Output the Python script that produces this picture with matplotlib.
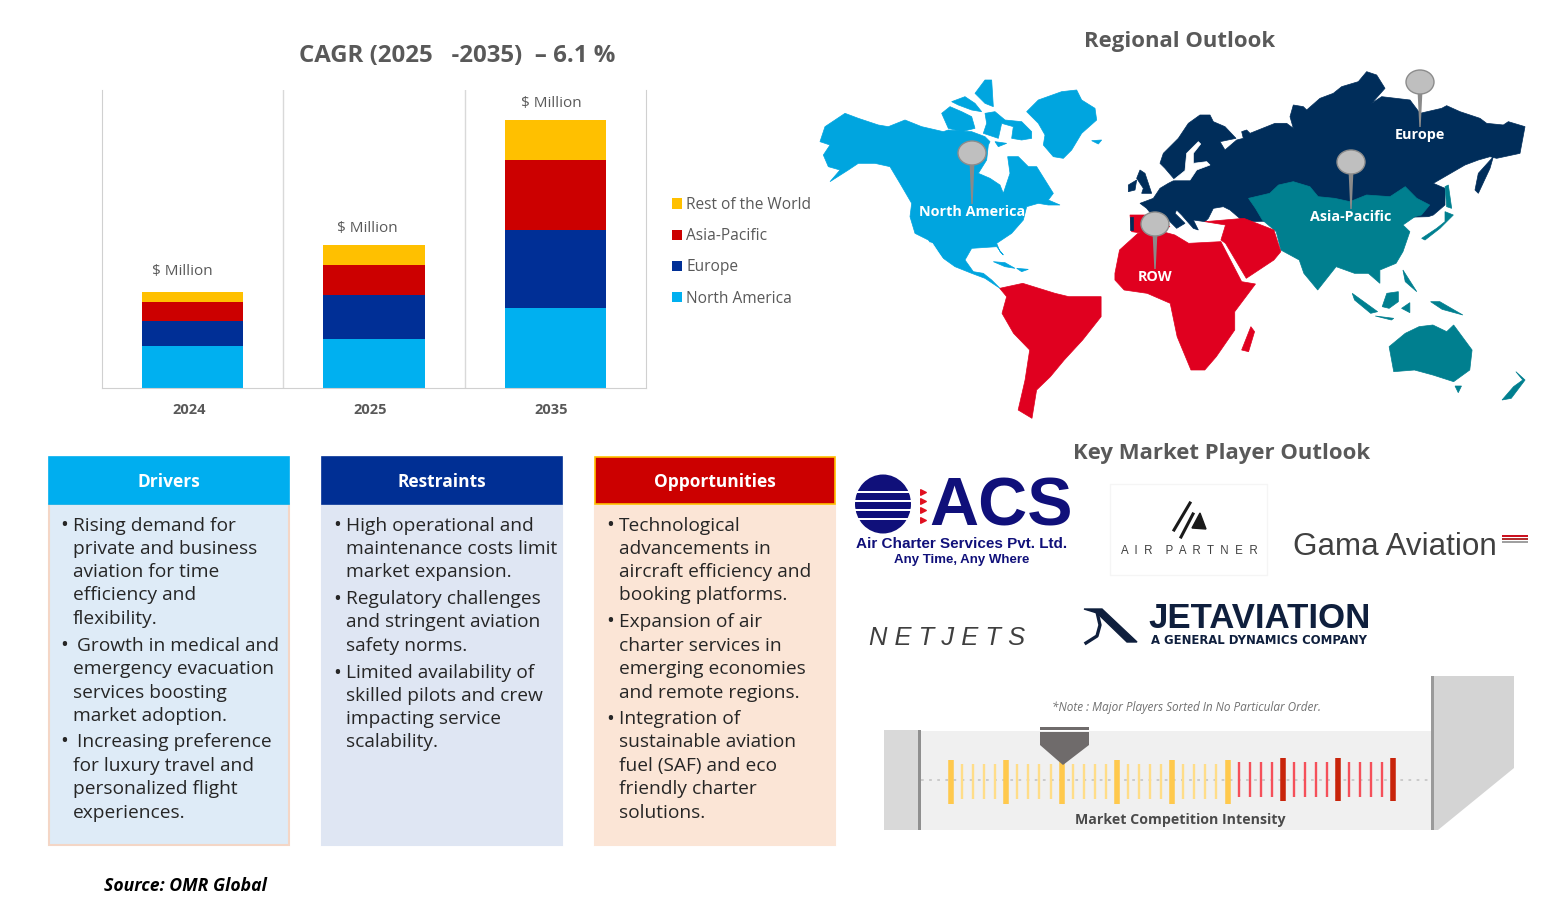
import matplotlib
matplotlib.use("Agg")
import matplotlib.pyplot as plt
from matplotlib.patches import Polygon, Rectangle, Ellipse
from matplotlib.transforms import ScaledTranslation

plt.rcParams['font.family'] = ['Open Sans', 'DejaVu Sans']

W, H = 1563, 908

# chart data (no scale on the original, values are read as bar heights)
years = ['2024', '2025', '2035']
north_america = [42, 49, 80]
europe = [25, 44, 78]
asia_pacific = [19, 30, 70]
rest_of_world = [10, 20, 40]
series_names = ['North America', 'Europe', 'Asia-Pacific', 'Rest of the World']
series_colors = ['#00B0F0', '#002F96', '#CC0000', '#FFC000']
total_label = '$ Million'

drivers = [(525, 1, 0, 'Rising demand for'), (548, 0, 0, 'private and business'), (571, 0, 0, 'aviation for time'),
           (594, 0, 0, 'efficiency and'), (618, 0, 0, 'flexibility.'), (645, 1, 4, 'Growth in medical and'),
           (668, 0, 0, 'emergency evacuation'), (692, 0, 0, 'services boosting'), (715, 0, 0, 'market adoption.'),
           (741, 1, 4, 'Increasing preference'), (765, 0, 0, 'for luxury travel and'),
           (788, 0, 0, 'personalized flight'), (812, 0, 0, 'experiences.')]
restraints = [(525, 1, 0, 'High operational and'), (548, 0, 0, 'maintenance costs limit'), (571, 0, 0, 'market expansion.'),
              (598, 1, 0, 'Regulatory challenges'), (621, 0, 0, 'and stringent aviation'), (645, 0, 0, 'safety norms.'),
              (672, 1, 0, 'Limited availability of'), (695, 0, 0, 'skilled pilots and crew'),
              (718, 0, 0, 'impacting service'), (741, 0, 0, 'scalability.')]
opportunities = [(525, 1, 0, 'Technological'), (548, 0, 0, 'advancements in'), (571, 0, 0, 'aircraft efficiency and'),
                 (594, 0, 0, 'booking platforms.'), (621, 1, 0, 'Expansion of air'), (645, 0, 0, 'charter services in'),
                 (668, 0, 0, 'emerging economies'), (692, 0, 0, 'and remote regions.'), (718, 1, 0, 'Integration of'),
                 (741, 0, 0, 'sustainable aviation'), (765, 0, 0, 'fuel (SAF) and eco'),
                 (788, 0, 0, 'friendly charter'), (812, 0, 0, 'solutions.')]

NA_BLUE = '#00A5DF'
NAVY = '#002D5A'
TEAL = '#007F8F'
RED = '#E0001F'
crops = {'world': (820, 60, 2.17, 3.0), 'na': (815, 70, 3.0, 3.0), 'eu': (1110, 100, 3.0, 3.0), 'ru': (1270, 65, 3.0, 3.0)}


def conv(crop, points):
    left, top, sx, sy = crops[crop]
    return [(left + a / sx, top + b / sy) for a, b in points]


navy_main = (conv('eu', [(90, 310), (130, 295), (150, 265), (175, 250), (195, 240), (165, 205), (150, 190), (160, 160),
                         (205, 115), (235, 70), (270, 45), (300, 45), (310, 65), (345, 80), (378, 115), (330, 125),
                         (345, 150), (380, 120), (400, 115), (395, 95), (410, 90), (420, 100), (495, 70), (530, 70),
                         (550, 85), (540, 50), (550, 15)])
             + conv('ru', [(100, 125), (110, 135), (150, 100), (190, 85), (215, 65), (265, 50), (290, 20), (320, 30),
                           (345, 70), (305, 115), (335, 95), (420, 105), (450, 145), (515, 130), (530, 122), (570, 140),
                           (630, 160), (650, 175), (700, 180), (715, 170), (765, 185), (750, 265), (680, 280),
                           (660, 275), (625, 285), (585, 300), (490, 355), (525, 370), (525, 420), (490, 450), (475, 455)])
             + conv('eu', [(415, 365), (395, 360), (360, 330), (340, 320), (310, 325), (295, 355), (285, 365), (250, 360),
                           (265, 390), (250, 385), (215, 345), (200, 330), (195, 340), (225, 370), (200, 385), (180, 365),
                           (165, 350), (130, 350), (110, 325)]))

map_shapes = [
    (NA_BLUE, conv('na', [(15, 215), (30, 170), (90, 130), (130, 145), (190, 165), (220, 170), (270, 150), (320, 170),
                          (385, 185), (400, 180), (470, 185), (510, 200), (525, 215), (520, 225), (515, 270), (490, 310),
                          (525, 325), (555, 345), (565, 370), (575, 340), (585, 310), (578, 260), (610, 260), (640, 290),
                          (665, 290), (690, 330), (715, 370), (700, 390), (735, 405), (700, 405), (670, 400), (635, 410),
                          (625, 450), (590, 490), (545, 520), (555, 545), (565, 555), (545, 530), (470, 535), (450, 570),
                          (475, 605), (505, 610), (530, 630), (555, 655), (510, 625), (470, 610), (420, 590), (385, 565),
                          (340, 510), (300, 490), (285, 440), (290, 400), (255, 340), (225, 290), (180, 280), (130, 280),
                          (100, 300), (45, 335), (75, 300), (40, 290), (25, 255), (45, 225)])),
    (NA_BLUE, conv('na', [(380, 130), (405, 110), (440, 125), (470, 140), (480, 175), (440, 185), (400, 175)])),
    (NA_BLUE, conv('na', [(410, 95), (450, 80), (480, 100), (500, 125), (470, 120), (430, 105)])),
    (NA_BLUE, conv('na', [(480, 70), (510, 30), (530, 30), (535, 110), (510, 100)])),
    (NA_BLUE, conv('na', [(510, 130), (540, 125), (570, 150), (620, 155), (650, 185), (650, 205), (620, 210), (590, 205),
                          (595, 170), (560, 160), (550, 205), (505, 190), (515, 160)])),
    (NA_BLUE, conv('na', [(540, 215), (575, 220), (550, 230)])),
    (NA_BLUE, conv('na', [(635, 125), (670, 90), (740, 65), (785, 60), (800, 90), (840, 115), (845, 150), (800, 190),
                          (770, 240), (745, 265), (715, 260), (685, 225), (690, 195), (670, 160)])),
    (NA_BLUE, conv('na', [(830, 212), (860, 210), (850, 222)])),
    (NA_BLUE, conv('na', [(535, 575), (570, 578), (600, 595), (570, 590)])),
    (NA_BLUE, conv('na', [(605, 595), (640, 598), (620, 605)])),
    ('white', conv('na', [(345, 518), (352, 520), (385, 570), (378, 572)])),
    (NAVY, navy_main),
    ('white', conv('eu', [(265, 125), (272, 132), (250, 160), (250, 190), (290, 185), (300, 195), (260, 210), (240, 240),
                          (190, 240), (225, 212), (230, 160)])),
    (NAVY, conv('eu', [(90, 210), (105, 220), (125, 280), (95, 280), (100, 265), (80, 235)])),
    (NAVY, conv('eu', [(55, 255), (80, 240), (75, 270), (55, 275)])),
    (NAVY, conv('ru', [(615, 375), (625, 385), (660, 310), (670, 275), (625, 325)])),
    (TEAL, conv('world', [(930, 415), (976, 400), (995, 375), (1027, 365), (1063, 380), (1081, 410), (1117, 415), (1150, 425),
                          (1186, 405), (1237, 410), (1270, 380), (1295, 415), (1323, 435), (1305, 465), (1291, 470),
                          (1265, 495), (1280, 515), (1265, 575), (1250, 610), (1215, 630), (1215, 670), (1190, 640),
                          (1160, 640), (1120, 620), (1080, 690), (1050, 640), (1040, 600), (1000, 570), (990, 515),
                          (960, 480), (945, 445)])),
    (TEAL, conv('ru', [(525, 365), (535, 360), (545, 430), (530, 425)])),
    (TEAL, conv('ru', [(525, 440), (550, 450), (510, 490), (465, 525), (455, 520), (500, 490), (525, 470)])),
    (TEAL, conv('world', [(1155, 700), (1210, 755), (1195, 760), (1160, 720)])),
    (TEAL, conv('world', [(1220, 740), (1230, 700), (1255, 695), (1255, 725), (1235, 745)])),
    (TEAL, conv('world', [(1265, 630), (1295, 695), (1270, 665)])),
    (TEAL, conv('world', [(1262, 745), (1280, 728), (1280, 758)])),
    (TEAL, conv('world', [(1325, 725), (1345, 725), (1395, 765), (1350, 748)])),
    (TEAL, conv('world', [(1205, 768), (1245, 775), (1240, 780)])),
    (TEAL, conv('world', [(1235, 860), (1270, 820), (1300, 800), (1330, 795), (1360, 815), (1375, 795), (1415, 870), (1410, 930),
                          (1375, 965), (1330, 945), (1290, 930), (1245, 935)])),
    (TEAL, conv('world', [(1378, 978), (1392, 978), (1385, 998)])),
    (TEAL, conv('world', [(1480, 1020), (1505, 980), (1525, 960), (1510, 935), (1530, 960), (1500, 1015)])),
    (RED, conv('world', [(640, 640), (650, 570), (690, 520), (730, 510), (770, 525), (800, 550), (870, 545), (915, 665), (945, 672),
                         (900, 755), (900, 810), (860, 890), (835, 930), (805, 930), (775, 830), (760, 730), (710, 700),
                         (660, 690), (640, 660)])),
    (RED, conv('world', [(880, 550), (925, 655), (985, 600), (1000, 575), (985, 510), (920, 475), (835, 485), (880, 495),
                         (870, 540)])),
    (RED, conv('eu', [(60, 345), (110, 345), (180, 380), (100, 400), (65, 395)])),
    (NAVY, conv('eu', [(60, 350), (70, 350), (70, 390), (60, 390)])),
    (RED, conv('world', [(915, 870), (935, 800), (943, 815), (930, 875)])),
    (RED, conv('world', [(390, 685), (440, 670), (510, 700), (540, 710), (610, 710), (610, 770), (570, 840), (530, 900), (500, 950),
                         (470, 990), (460, 1075), (430, 1050), (445, 960), (455, 870), (420, 820), (395, 760), (405, 710)])),
]
map_pins = [(972, 153, 212, 'North America'), (1420, 82, 135, 'Europe'),
            (1351, 162, 217, 'Asia-Pacific'), (1155, 224, 277, 'ROW')]


fig = plt.figure(figsize=(W / 100, H / 100), dpi=100)

# whole figure axes in pixels, everything that is not the bar chart goes here
bg = fig.add_axes([0, 0, 1, 1])
bg.set_xlim(0, W)
bg.set_ylim(H, 0)
bg.axis('off')


def box(x0, y0, x1, y1, color, edge='none', lw=1.0, z=1):
    bg.add_patch(Rectangle((x0, y0), x1 - x0, y1 - y0, facecolor=color, edgecolor=edge, linewidth=lw, zorder=z))


def label(x, y, s, size, color='#595959', weight='normal', ha='center', style='normal', family=None, z=5):
    kw = {}
    if family:
        kw['family'] = family
    bg.text(x, y, s, fontsize=size, color=color, fontweight=weight, ha=ha, va='center', style=style, zorder=z, **kw)


# titles
label(457, 56, 'CAGR (2025   -2035)  \u2013 6.1 %', 17.3, weight='bold')
label(1180, 42, 'Regional Outlook', 15.9, weight='bold')
label(1222, 453, 'Key Market Player Outlook', 15.9, weight='bold')
label(104, 886, 'Source: OMR Global', 12.7, color='black', weight='bold', ha='left', style='italic')

# stacked bars
ax = fig.add_axes([102 / W, 1 - 388 / H, 544 / W, 298 / H])
bottom = [0, 0, 0]
handles = []
x_pos = range(len(years))
for values, name, color in zip([north_america, europe, asia_pacific, rest_of_world], series_names, series_colors):
    bars = ax.bar(x_pos, values, width=0.56, bottom=bottom, color=color, label=name)
    handles.append(bars)
    bottom = [b + v for b, v in zip(bottom, values)]
ax.set_xlim(-0.5, 2.5)
ax.set_ylim(0, 298)
ax.set_yticks([])
ax.set_xticks(list(x_pos))
ax.set_xticklabels(years, fontsize=10.5, color='#595959', fontweight='bold')
ax.tick_params(axis='x', length=0, pad=11)
for tick in ax.get_xticklabels():
    tick.set_transform(tick.get_transform() + ScaledTranslation(-0.04, 0, fig.dpi_scale_trans))
ax.axvline(0.5, color='#D9D9D9', lw=1)
ax.axvline(1.5, color='#D9D9D9', lw=1)
ax.spines['top'].set_visible(False)
for side in ['left', 'right', 'bottom']:
    ax.spines[side].set_color('#D0D0D0')
for i, shift in enumerate([(-10, 13), (-7, 9), (-4, 9)]):
    ax.annotate(total_label, (i, bottom[i]), xytext=shift, textcoords='offset pixels', ha='center', va='bottom',
                fontsize=11, color='#595959')
ax.legend(handles[::-1], series_names[::-1], loc='upper left', bbox_to_anchor=(672 / W, 1 - 197 / H),
          bbox_transform=fig.transFigure, frameon=False, fontsize=11.2, labelcolor='#595959', handlelength=0.65,
          handleheight=0.65, handletextpad=0.25, labelspacing=0.98, borderpad=0, borderaxespad=0)

# map
for color, points in map_shapes:
    bg.add_patch(Polygon(points, closed=True, facecolor=color, edgecolor=color, linewidth=0.5, zorder=2))
for px, py, ly, name in map_pins:
    bg.add_patch(Polygon([(px - 2.5, py + 8), (px + 2.5, py + 8), (px + 0.7, ly - 8), (px - 0.7, ly - 8)], closed=True,
                         facecolor='#8A8A8A', edgecolor='none', zorder=3))
    bg.add_patch(Ellipse((px, py), 28, 24, facecolor='#BFBFBF', edgecolor='#8C8C8C', linewidth=1, zorder=4))
    label(px, ly, name, 10.4, color='white', weight='bold')

# driver / restraint / opportunity panels
panels = [(49, 'Drivers', '#00AEEF', '#00AEEF', '#DEEBF7', '#F4D6C6', drivers),
          (322, 'Restraints', '#002F94', '#002F94', '#DFE6F3', '#DFE6F3', restraints),
          (595, 'Opportunities', '#CC0000', '#FFC000', '#FBE5D6', '#FBE5D6', opportunities)]
for x0, title, head, head_edge, body, body_edge, lines in panels:
    box(x0, 504, x0 + 240, 845, body, edge=body_edge, lw=1.5)
    box(x0, 457, x0 + 240, 504, head, edge=head_edge, lw=1.2, z=2)
    label(x0 + 120, 482, title, 12.5, color='white', weight='bold')
    for y, start, indent, text in lines:
        label(x0 + 24 + indent, y + 1, text, 13.8, color='#262626', ha='left')
        if start:
            label(x0 + 15, y + 1, '\u2022', 15, color='#262626')

# company logos, redrawn with plain text and shapes
NAVY_LOGO = '#10107A'
bg.add_patch(Ellipse((883, 504), 56, 59, facecolor=NAVY_LOGO, edgecolor='none', zorder=2))
for y in [492, 501, 510, 519]:
    box(855, y - 1, 912, y + 1, 'white', z=3)
bg.scatter([923, 923, 923, 923], [492, 501, 510, 520], marker='>', s=16, color='#E01020', zorder=3)
label(1001, 508, 'ACS', 49, color=NAVY_LOGO, weight='bold', family='Liberation Sans')
label(962, 544, 'Air Charter Services Pvt. Ltd.', 11, color=NAVY_LOGO, weight='bold', family='Liberation Sans')
label(962, 560, 'Any Time, Any Where', 9.5, color=NAVY_LOGO, weight='bold', family='Liberation Sans')

box(1110, 484, 1267, 575, 'none', edge='#F5F5F5', lw=1)
bg.plot([1174, 1190], [530, 503], color='#1A1A1A', lw=2.2, zorder=3)
bg.plot([1181, 1193], [537, 514], color='#1A1A1A', lw=2.2, zorder=3)
bg.add_patch(Polygon([(1192, 528), (1200, 513), (1206, 529)], closed=True, color='#1A1A1A', zorder=3))
label(1189, 551, 'A  I  R    P  A  R  T  N  E  R', 8.3, color='#404040', family='Liberation Sans')

label(1395, 547, 'Gama Aviation', 22.6, color='#404040', family='Liberation Sans')
for y, c in [(536, '#CC1020'), (539, '#B03030'), (542, '#A0A0A0')]:
    box(1502, y - 1, 1528, y + 1, c, z=3)

label(947, 638, 'N E T J E T S', 18.4, color='#3F3F3F', style='italic', family='Liberation Sans')

bg.add_patch(Polygon([(1084, 609), (1102, 609), (1137, 642), (1127, 642), (1097, 613)], closed=True, color='#0F1F3D', zorder=3))
bg.plot([1097, 1100, 1097, 1086], [612, 625, 636, 643], color='#0F1F3D', lw=2.4, zorder=3)
label(1260, 619, 'JETAVIATION', 25, color='#0F1F3D', weight='bold', family='Liberation Sans')
label(1259, 640, 'A GENERAL DYNAMICS COMPANY', 8.4, color='#0F1F3D', weight='bold', family='DejaVu Sans')

# market competition strip
label(1187, 707, '*Note : Major Players Sorted In No Particular Order.', 8.5, style='italic', color='#707070')
box(920, 731, 1432, 830, '#F0F0F0', z=1)
box(884, 730, 920, 830, '#D9D9D9', z=2)
box(918, 730, 921, 830, '#8F8F8F', z=2)
bg.add_patch(Polygon([(1432, 676), (1514, 676), (1514, 768), (1438, 830), (1432, 830)], closed=True,
                     facecolor='#D4D4D4', edgecolor='none', zorder=2))
box(1431, 676, 1434, 830, '#9A9A9A', z=2)
bg.plot([921, 1431], [780, 780], color='#C8C8C8', lw=1.3, ls=(0, (1.5, 3)), zorder=2)
for i in range(41):
    x = 951 + i * 11.06
    major = i % 5 == 0
    if i <= 25:
        color = '#FFC94D' if major else '#FFDD88'
        y0, y1 = (760, 804) if major else (764, 799)
    else:
        color = '#C8240A' if major else '#F5505A'
        y0, y1 = (758, 801) if major else (762, 797)
    bg.plot([x, x], [y0, y1], color=color, lw=4 if major else 1.7, zorder=3, solid_capstyle='butt')
box(1040, 727, 1089, 729.5, '#6F6B6B', z=4)
bg.add_patch(Polygon([(1040, 732), (1089, 732), (1089, 745), (1063, 765), (1040, 745)], closed=True,
                     facecolor='#6F6B6B', edgecolor='none', zorder=4))
label(1180, 820, 'Market Competition Intensity', 10.2, color='#4A4A4A', weight='bold')

fig.savefig('out.png', dpi=100)
